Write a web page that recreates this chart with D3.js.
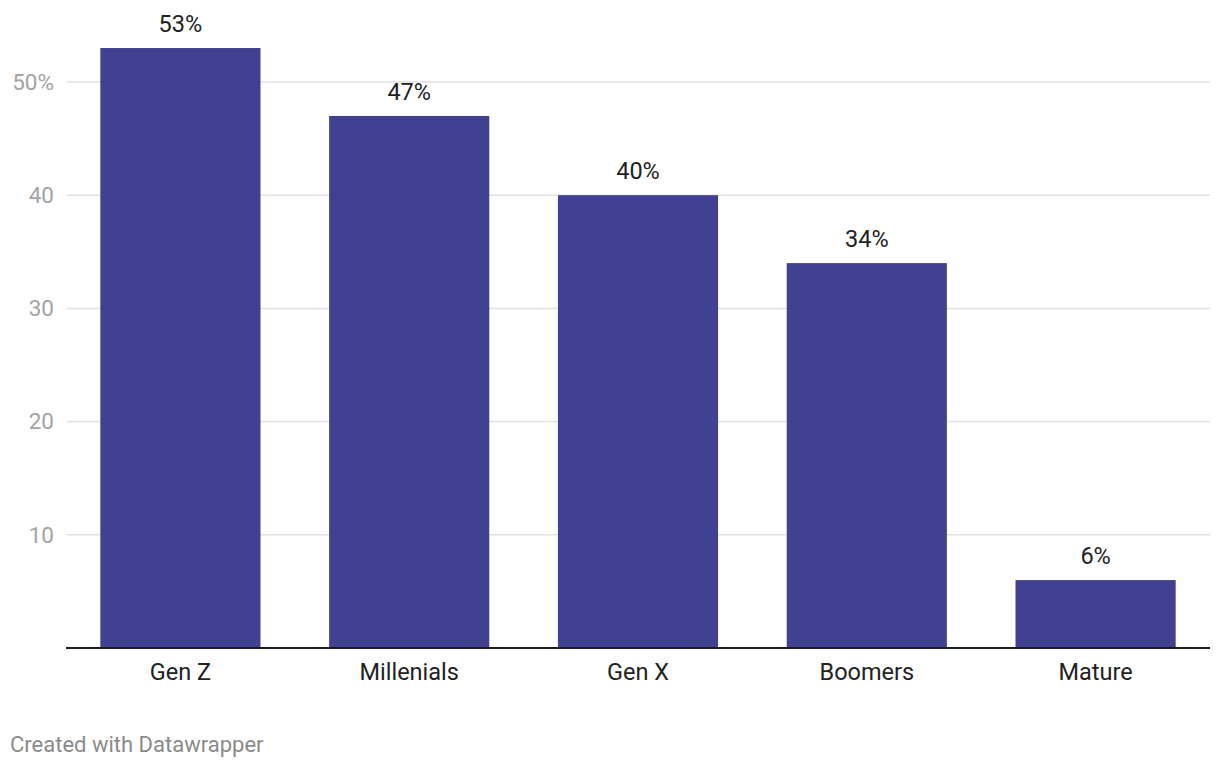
<!DOCTYPE html>
<html><head><meta charset="utf-8">
<script src="https://cdn.jsdelivr.net/npm/d3@7"></script>
<style>body{margin:0;background:#fff;font-family:Roboto,sans-serif;}</style>
</head><body><svg id="c" width="1220" height="768"></svg>
<script>
const categories = ["Gen Z","Millenials","Gen X","Boomers","Mature"];
const values = [53,47,40,34,6];
const yTicks = [10,20,30,40,50];

const svg = d3.select("#c");
const x = d3.scaleBand().domain(categories).range([66,1210]).paddingInner(0.3).paddingOuter(0.15);
const y = d3.scaleLinear().domain([0,50]).range([648,82]);

svg.append("g").selectAll("line").data(yTicks).join("line")
  .attr("x1",67).attr("x2",1210).attr("y1",d=>y(d)).attr("y2",d=>y(d))
  .attr("stroke","#e1e1e1").attr("stroke-width",1.5);
svg.append("g").selectAll("text").data(yTicks).join("text")
  .attr("x",54).attr("y",d=>y(d)).attr("dy","0.35em").attr("text-anchor","end")
  .attr("fill","#a3a3a3").style("font-size","22.5px")
  .text(d=>d===50?d+"%":d);

svg.append("g").selectAll("rect").data(values).join("rect")
  .attr("x",(d,i)=>x(categories[i])).attr("width",x.bandwidth())
  .attr("y",d=>y(d)).attr("height",d=>y(0)-y(d)).attr("fill","#404190");

svg.append("g").selectAll("text").data(values).join("text")
  .attr("x",(d,i)=>x(categories[i])+x.bandwidth()/2).attr("y",d=>y(d)-16)
  .attr("text-anchor","middle").attr("fill","#222").style("font-size","23.5px")
  .text(d=>d+"%");

svg.append("line").attr("x1",66).attr("x2",1210).attr("y1",648).attr("y2",648)
  .attr("stroke","#1a1a1a").attr("stroke-width",2);

svg.append("g").selectAll("text").data(categories).join("text")
  .attr("x",d=>x(d)+x.bandwidth()/2).attr("y",680)
  .attr("text-anchor","middle").attr("fill","#222").style("font-size","23.5px")
  .text(d=>d);

svg.append("text").attr("x",10).attr("y",752).attr("fill","#8a8a8a").style("font-size","22px")
  .text("Created with Datawrapper");
</script></body></html>
